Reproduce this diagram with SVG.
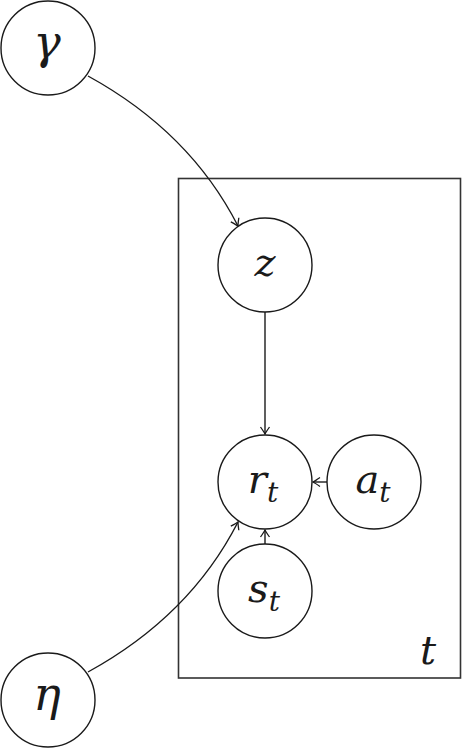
<svg xmlns="http://www.w3.org/2000/svg" width="462" height="748" viewBox="0 0 462 748">
<style>
.node{fill:#fff;stroke:#1a1a1a;stroke-width:1.4}
.lbl{font-family:"DejaVu Serif","Liberation Serif",serif;font-style:italic;font-size:40px;fill:#1a1a1a;text-anchor:middle}
.sub{font-size:28px}
.big{font-size:46px}
.edge{fill:none;stroke:#1a1a1a;stroke-width:1.4;marker-end:url(#ah)}
</style>
<defs>
<marker id="ah" viewBox="-10 -6 12 12" refX="0" refY="0" markerWidth="12" markerHeight="12" markerUnits="userSpaceOnUse" orient="auto">
<path d="M-7,-4.5 Q-2,-1 0,0 Q-2,1 -7,4.5" fill="none" stroke="#1a1a1a" stroke-width="1.3"/>
</marker>
</defs>
<g id="plate">
<rect x="178.5" y="178.5" width="282" height="499.5" fill="none" stroke="#333" stroke-width="1.6"/>
<text class="lbl" x="428" y="664">t</text>
</g>
<g id="connectors">
<path class="edge" d="M88,76 Q190,132 238,226"/>
<path class="edge" d="M88,672 Q190,616 238,522"/>
<path class="edge" d="M265,312 L265,434"/>
<path class="edge" d="M327,482 L313,482"/>
<path class="edge" d="M265,544 L265,530"/>
</g>
<g id="gamma">
<circle class="node" cx="48" cy="48" r="47"/>
<text class="lbl big" x="47" y="58">γ</text>
</g>
<g id="z">
<circle class="node" cx="265" cy="265" r="47"/>
<text class="lbl" x="265" y="276">z</text>
</g>
<g id="r_t">
<circle class="node" cx="265" cy="482" r="47"/>
<text class="lbl" x="263" y="493">r<tspan class="sub" dy="9">t</tspan></text>
</g>
<g id="a_t">
<circle class="node" cx="374" cy="482" r="47"/>
<text class="lbl" x="373" y="493">a<tspan class="sub" dy="9">t</tspan></text>
</g>
<g id="s_t">
<circle class="node" cx="265" cy="591" r="47"/>
<text class="lbl" x="264" y="602">s<tspan class="sub" dy="9">t</tspan></text>
</g>
<g id="eta">
<circle class="node" cx="48" cy="700" r="47"/>
<text class="lbl big" x="47" y="710">η</text>
</g>
</svg>
